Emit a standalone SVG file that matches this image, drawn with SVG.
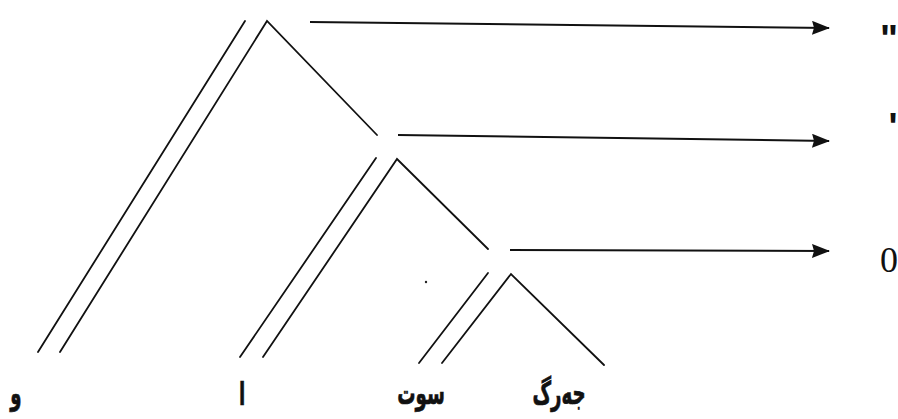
<svg xmlns="http://www.w3.org/2000/svg" width="898" height="419" viewBox="0 0 898 419">
<style>
.ln{stroke:#111;stroke-width:1.8;fill:none;stroke-linecap:round}
.ar{stroke:#111;stroke-width:2;fill:none}
.lbl{font-family:"DejaVu Sans",sans-serif;font-weight:bold;font-size:26px;fill:#111;text-anchor:middle;stroke:#111;stroke-width:0.6}
.mk{font-family:"Liberation Serif",serif;font-size:36px;fill:#111;text-anchor:middle}
.qt{font-family:"Liberation Sans",sans-serif;font-weight:bold;font-size:38px;fill:#111;text-anchor:middle}
</style>
<defs>
<marker id="ah" viewBox="0 0 18 14" refX="17" refY="7" markerWidth="18" markerHeight="14" markerUnits="userSpaceOnUse" orient="auto">
<path d="M0,0 L18,7 L0,14 L2,7 Z" fill="#111"/>
</marker>
</defs>
<rect width="898" height="419" fill="#fff"/>
<g id="tree1">
<line class="ln" x1="245" y1="21" x2="38" y2="352"/>
<polyline class="ln" points="60,352 267,21 377,135"/>
</g>
<g id="tree2">
<line class="ln" x1="376" y1="158" x2="240" y2="357"/>
<polyline class="ln" points="263,357 397,159 488,249"/>
</g>
<g id="tree3">
<line class="ln" x1="488" y1="273" x2="419" y2="363"/>
<polyline class="ln" points="442,363 511,274 604,365"/>
</g>
<circle cx="426" cy="282" r="1.2" fill="#222"/>
<g id="connectors">
<line class="ar" x1="310" y1="22" x2="829" y2="28" marker-end="url(#ah)"/>
<line class="ar" x1="398" y1="135" x2="829" y2="141" marker-end="url(#ah)"/>
<line class="ar" x1="510" y1="250" x2="829" y2="251" marker-end="url(#ah)"/>
</g>
<g id="labels">
<text class="lbl" transform="translate(16,404) scale(0.7,1.2)">و</text>
<text class="lbl" transform="translate(242,405) scale(0.7,1.2)">ا</text>
<text class="lbl" transform="translate(421,404) scale(0.7,1.2)">سوت</text>
<text class="lbl" transform="translate(559,404) scale(0.7,1.2)">جەرگ</text>
</g>
<g id="marks">
<text class="qt" x="889" y="52">"</text>
<text class="qt" x="893" y="140">'</text>
<text class="mk" x="889" y="272">0</text>
</g>
</svg>
